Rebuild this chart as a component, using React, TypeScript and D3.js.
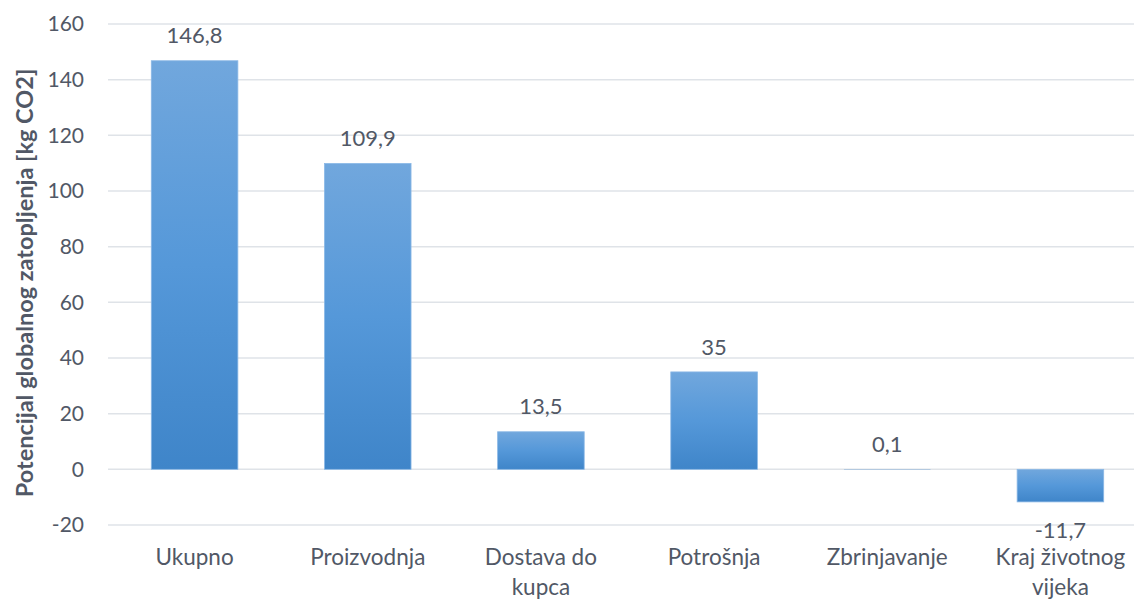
import React from 'react';
import * as d3 from 'd3';

const categories = [
  ['Ukupno'],
  ['Proizvodnja'],
  ['Dostava do', 'kupca'],
  ['Potrošnja'],
  ['Zbrinjavanje'],
  ['Kraj životnog', 'vijeka'],
];
const values = [146.8, 109.9, 13.5, 35, 0.1, -11.7];
const labels = ['146,8', '109,9', '13,5', '35', '0,1', '-11,7'];
const ticks = [-20, 0, 20, 40, 60, 80, 100, 120, 140, 160];

const App = () => {
  const width = 1134;
  const height = 599;
  const margin = { top: 24, left: 108, right: -13, bottom: 74 };
  const textColor = '#515866';
  const font = 'Lato, "Open Sans", sans-serif';

  const x = d3
    .scaleBand()
    .domain(categories.map((_, i) => String(i)))
    .range([margin.left, width - margin.right])
    .paddingInner(0.5)
    .paddingOuter(0.25);

  const y = d3
    .scaleLinear()
    .domain([-20, 160])
    .range([height - margin.bottom, margin.top]);

  return (
    <svg
      width={width}
      height={height}
      style={{ position: 'absolute', left: 0, top: 0, background: '#fff' }}
      fontFamily={font}
    >
      <defs>
        <linearGradient id="barGrad" x1="0" y1="0" x2="0" y2="1">
          <stop offset="0%" stopColor="#71a7dd" />
          <stop offset="50%" stopColor="#5598d9" />
          <stop offset="100%" stopColor="#3f85c9" />
        </linearGradient>
      </defs>

      {ticks.map(t => (
        <g key={t}>
          <line
            x1={margin.left}
            x2={width}
            y1={y(t)}
            y2={y(t)}
            stroke="#dfe3e8"
            strokeWidth={1.5}
          />
          <text
            x={84}
            y={y(t)}
            dy="0.35em"
            textAnchor="end"
            fontSize={21}
            fill={textColor}
          >
            {t}
          </text>
        </g>
      ))}

      {values.map((v, i) => {
        const bx = x(String(i))!;
        const top = y(Math.max(0, v));
        const bottom = y(Math.min(0, v));
        const h = bottom - top;
        const cx = bx + x.bandwidth() / 2;
        return (
          <g key={i}>
            <rect
              x={bx}
              y={top}
              width={x.bandwidth()}
              height={h}
              fill="url(#barGrad)"
              stroke={h > 2 ? '#8bb8e6' : 'none'}
              strokeWidth={0.8}
            />
            <text
              x={cx}
              y={v >= 0 ? top - 25 : bottom + 28}
              dy="0.35em"
              textAnchor="middle"
              fontSize={22}
              fill={textColor}
            >
              {labels[i]}
            </text>
          </g>
        );
      })}

      {categories.map((lines, i) => {
        const cx = x(String(i))! + x.bandwidth() / 2;
        return (
          <text
            key={i}
            x={cx}
            textAnchor="middle"
            fontSize={22.5}
            fill={textColor}
          >
            {lines.map((l, j) => (
              <tspan key={j} x={cx} y={557 + j * 30} dy="0.35em">
                {l}
              </tspan>
            ))}
          </text>
        );
      })}

      <text
        transform={`translate(25,283) rotate(-90)`}
        textAnchor="middle"
        dy="0.35em"
        fontSize={23.5}
        fontWeight="bold"
        fill={textColor}
      >
        Potencijal globalnog zatopljenja [kg CO2]
      </text>
    </svg>
  );
};

export default App;
